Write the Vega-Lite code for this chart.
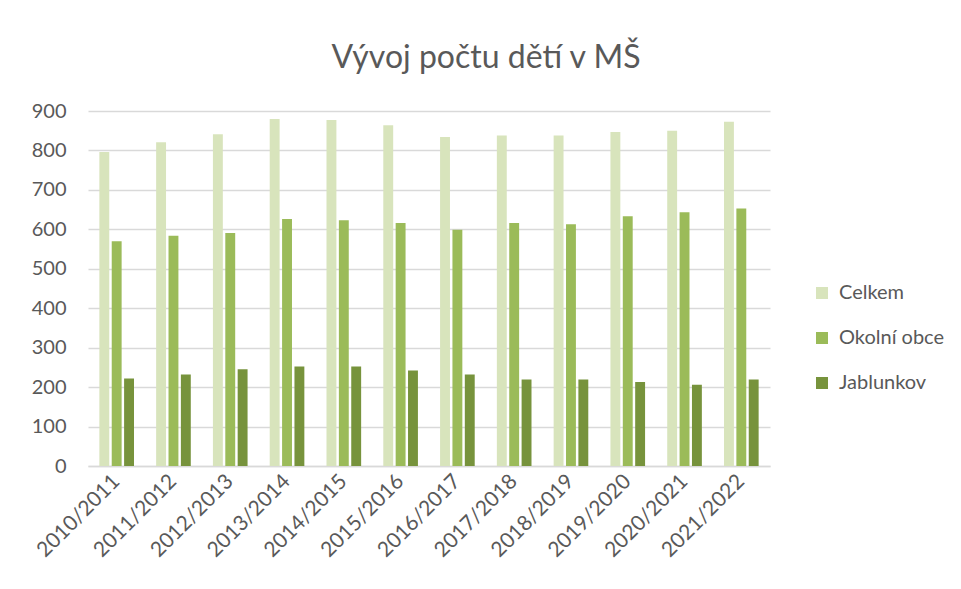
{
  "$schema": "https://vega.github.io/schema/vega-lite/v6.json",
  "width": 682,
  "height": 355,
  "autosize": {"type": "none"},
  "padding": {"left": 88, "top": 111, "right": 191, "bottom": 123},
  "background": "white",
  "title": {
    "text": "Vývoj počtu dětí v MŠ",
    "font": "Lato",
    "fontSize": 32,
    "fontWeight": "normal",
    "color": "#595959",
    "anchor": "middle",
    "dx": 57,
    "offset": 26
  },
  "data": {
    "values": [
      {"rok": "2010/2011", "serie": "Celkem", "pocet": 796},
      {"rok": "2011/2012", "serie": "Celkem", "pocet": 821},
      {"rok": "2012/2013", "serie": "Celkem", "pocet": 841},
      {"rok": "2013/2014", "serie": "Celkem", "pocet": 880},
      {"rok": "2014/2015", "serie": "Celkem", "pocet": 877},
      {"rok": "2015/2016", "serie": "Celkem", "pocet": 864},
      {"rok": "2016/2017", "serie": "Celkem", "pocet": 834},
      {"rok": "2017/2018", "serie": "Celkem", "pocet": 838},
      {"rok": "2018/2019", "serie": "Celkem", "pocet": 838},
      {"rok": "2019/2020", "serie": "Celkem", "pocet": 847},
      {"rok": "2020/2021", "serie": "Celkem", "pocet": 850},
      {"rok": "2021/2022", "serie": "Celkem", "pocet": 873},
      {"rok": "2010/2011", "serie": "Okolní obce", "pocet": 570},
      {"rok": "2011/2012", "serie": "Okolní obce", "pocet": 584},
      {"rok": "2012/2013", "serie": "Okolní obce", "pocet": 591},
      {"rok": "2013/2014", "serie": "Okolní obce", "pocet": 626},
      {"rok": "2014/2015", "serie": "Okolní obce", "pocet": 623},
      {"rok": "2015/2016", "serie": "Okolní obce", "pocet": 616},
      {"rok": "2016/2017", "serie": "Okolní obce", "pocet": 599},
      {"rok": "2017/2018", "serie": "Okolní obce", "pocet": 616},
      {"rok": "2018/2019", "serie": "Okolní obce", "pocet": 613},
      {"rok": "2019/2020", "serie": "Okolní obce", "pocet": 633},
      {"rok": "2020/2021", "serie": "Okolní obce", "pocet": 643},
      {"rok": "2021/2022", "serie": "Okolní obce", "pocet": 653},
      {"rok": "2010/2011", "serie": "Jablunkov", "pocet": 222},
      {"rok": "2011/2012", "serie": "Jablunkov", "pocet": 232},
      {"rok": "2012/2013", "serie": "Jablunkov", "pocet": 245},
      {"rok": "2013/2014", "serie": "Jablunkov", "pocet": 252},
      {"rok": "2014/2015", "serie": "Jablunkov", "pocet": 252},
      {"rok": "2015/2016", "serie": "Jablunkov", "pocet": 242},
      {"rok": "2016/2017", "serie": "Jablunkov", "pocet": 232},
      {"rok": "2017/2018", "serie": "Jablunkov", "pocet": 219},
      {"rok": "2018/2019", "serie": "Jablunkov", "pocet": 219},
      {"rok": "2019/2020", "serie": "Jablunkov", "pocet": 213},
      {"rok": "2020/2021", "serie": "Jablunkov", "pocet": 206},
      {"rok": "2021/2022", "serie": "Jablunkov", "pocet": 219}
    ]
  },
  "mark": {"type": "bar"},
  "encoding": {
    "x": {
      "field": "rok",
      "type": "nominal",
      "title": null,
      "scale": {"paddingInner": 0.39, "paddingOuter": 0.2},
      "axis": {
        "labelAngle": -45,
        "labelAlign": "right",
        "labelBaseline": "middle",
        "labelFont": "Lato",
        "labelFontSize": 21,
        "labelColor": "#595959",
        "labelPadding": 12,
        "ticks": false,
        "domainColor": "#D9D9D9",
        "domainWidth": 1.5,
        "grid": false
      }
    },
    "xOffset": {
      "field": "serie",
      "type": "nominal",
      "sort": ["Celkem", "Okolní obce", "Jablunkov"],
      "scale": {"paddingInner": 0.2, "paddingOuter": 0}
    },
    "y": {
      "field": "pocet",
      "type": "quantitative",
      "title": null,
      "scale": {"domain": [0, 900]},
      "axis": {
        "values": [0, 100, 200, 300, 400, 500, 600, 700, 800, 900],
        "labelFont": "Lato",
        "labelFontSize": 20,
        "labelColor": "#595959",
        "labelPadding": 22,
        "ticks": false,
        "domain": false,
        "gridColor": "#D9D9D9",
        "gridWidth": 1.5
      }
    },
    "color": {
      "field": "serie",
      "type": "nominal",
      "title": null,
      "scale": {
        "domain": ["Celkem", "Okolní obce", "Jablunkov"],
        "range": ["#D8E4BC", "#9BBB59", "#77933C"]
      },
      "legend": {
        "orient": "none",
        "legendX": 724,
        "legendY": 172,
        "symbolType": "square",
        "symbolSize": 144,
        "symbolStrokeWidth": 0,
        "labelFont": "Lato",
        "labelFontSize": 20,
        "labelColor": "#595959",
        "labelOffset": 7,
        "rowPadding": 25
      }
    }
  },
  "config": {
    "view": {"stroke": null}
  }
}
